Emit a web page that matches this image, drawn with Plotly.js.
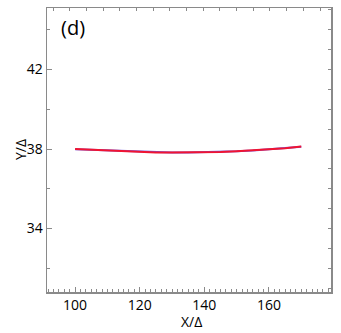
<!DOCTYPE html>
<html>
<head>
<meta charset="utf-8">
<script src="https://cdn.plot.ly/plotly-3.0.1.min.js"></script>
<style>html,body{margin:0;padding:0;background:#fff;}#chart{width:341px;height:333px;}</style>
</head>
<body>
<div id="chart"></div>
<script>
const xVals = [100, 105, 110, 115, 120, 125, 130, 135, 140, 145, 150, 155, 160, 165, 170];
const yBlue = [37.99, 37.96, 37.93, 37.90, 37.87, 37.84, 37.83, 37.83, 37.84, 37.86, 37.89, 37.93, 37.98, 38.04, 38.11];
const yRed  = [38.00, 37.96, 37.92, 37.88, 37.85, 37.83, 37.82, 37.82, 37.83, 37.85, 37.89, 37.93, 37.98, 38.04, 38.12];
const panelLabel = '(d)';
const xTitle = 'X/Δ';
const yTitle = 'Y/Δ';

const font = {family: 'Open Sans, Noto Sans, sans-serif', size: 14, color: '#000'};
const axisColor = '#8a8a8a';

const traces = [
  {x: xVals, y: yBlue, mode: 'lines', line: {color: 'rgb(110,90,225)', width: 2}, hoverinfo: 'skip', showlegend: false},
  {x: xVals, y: yRed, mode: 'lines', line: {color: 'rgb(240,20,50)', width: 2}, hoverinfo: 'skip', showlegend: false},
  {x: [], y: [], xaxis: 'x2', yaxis: 'y2', mode: 'lines', hoverinfo: 'skip', showlegend: false}
];

const layout = {
  width: 341, height: 333,
  margin: {l: 47, r: 10, t: 8, b: 41, pad: 0},
  paper_bgcolor: '#fff', plot_bgcolor: '#fff',
  font: font,
  showlegend: false,
  xaxis: {
    range: [91.3, 179.2], tickmode: 'array', tickvals: [100, 120, 140, 160],
    ticks: 'inside', ticklen: 5, tickwidth: 1, tickcolor: axisColor,
    showline: true, linecolor: axisColor, linewidth: 1.5,
    showgrid: false, zeroline: false, automargin: false,
    minor: {dtick: 20/12, tick0: 100, ticks: 'inside', ticklen: 3, tickcolor: axisColor, showgrid: false},
    tickfont: {size: 14}
  },
  yaxis: {
    range: [30.8, 45.1], tickmode: 'array', tickvals: [34, 38, 42],
    ticks: 'inside', ticklen: 5, tickwidth: 1, tickcolor: axisColor,
    showline: true, linecolor: axisColor, linewidth: 1.5,
    showgrid: false, zeroline: false, automargin: false,
    minor: {dtick: 2, tick0: 30, ticks: 'inside', ticklen: 3, tickcolor: axisColor, showgrid: false},
    tickfont: {size: 14}
  },
  xaxis2: {
    overlaying: 'x', side: 'top', anchor: 'y',
    range: [-0.378, 16.66], dtick: 1, tick0: 0,
    ticks: 'inside', ticklen: 3, tickcolor: axisColor, showticklabels: false,
    showline: true, linecolor: axisColor, linewidth: 1.5,
    showgrid: false, zeroline: false
  },
  yaxis2: {
    overlaying: 'y', side: 'right', anchor: 'x',
    range: [30.8, 45.1], dtick: 1, tick0: 30,
    ticks: 'inside', ticklen: 3, tickcolor: axisColor, showticklabels: false,
    showline: true, linecolor: axisColor, linewidth: 1.5,
    showgrid: false, zeroline: false
  },
  annotations: [
    {text: panelLabel, xref: 'paper', yref: 'paper', x: 0.042, y: 0.985,
     xanchor: 'left', yanchor: 'top', showarrow: false, font: {size: 20, color: '#000'}},
    {text: xTitle, xref: 'paper', yref: 'paper', x: 0.51, y: -0.062,
     xanchor: 'center', yanchor: 'top', showarrow: false, font: {size: 14, color: '#000'}},
    {text: yTitle, xref: 'paper', yref: 'paper', x: -0.095, y: 0.5, textangle: -90,
     xanchor: 'center', yanchor: 'middle', showarrow: false, font: {size: 14, color: '#000'}}
  ]
};

Plotly.newPlot('chart', traces, layout, {displayModeBar: false, staticPlot: true});
</script>
</body>
</html>
